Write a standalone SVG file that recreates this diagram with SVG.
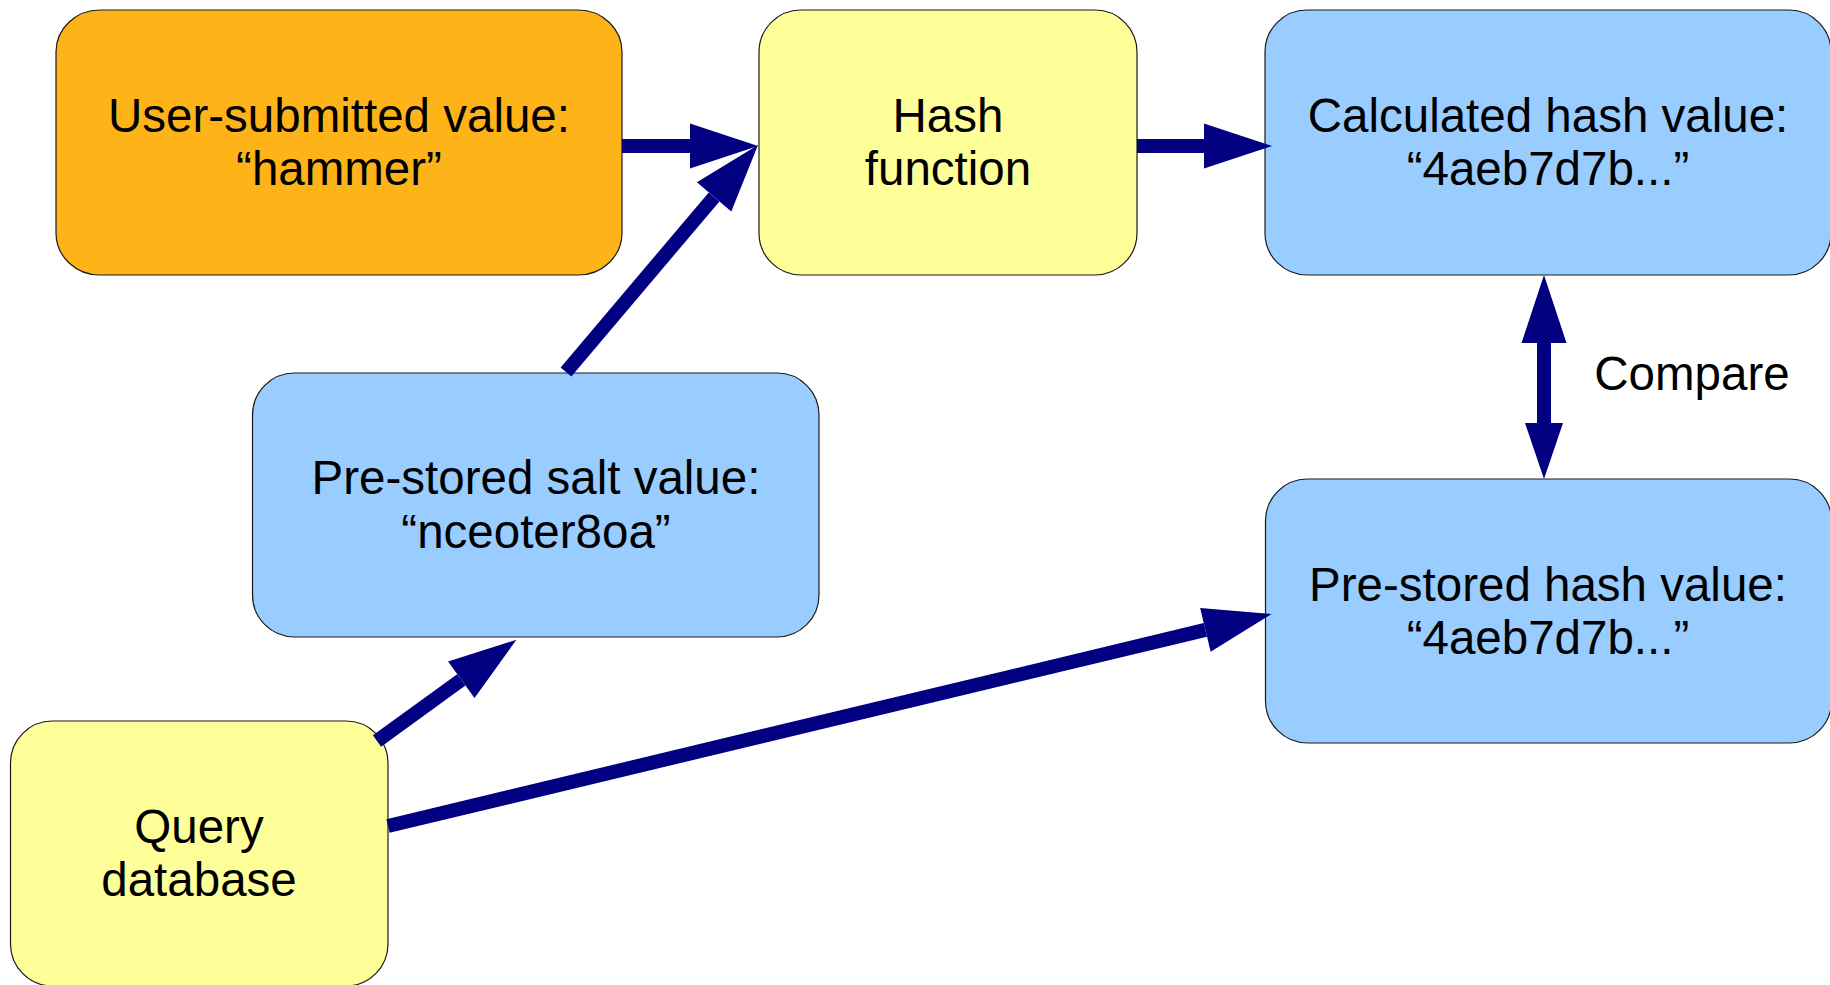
<svg xmlns="http://www.w3.org/2000/svg" width="1830" height="985" viewBox="0 0 1830 985">
  <style>
    .box { stroke: #1a1a1a; stroke-width: 1.2; }
    .orange { fill: #feb319; }
    .yellow { fill: #ffff99; }
    .blue { fill: #99ccff; }
    text { font-family: "Liberation Sans", Arial, sans-serif; font-size: 47.5px; fill: #000; text-anchor: middle; }
    .conn { stroke: #000080; stroke-width: 14; fill: none; stroke-linecap: butt; }
  </style>
  <defs>
    <marker id="head" markerUnits="userSpaceOnUse" markerWidth="68" markerHeight="45" viewBox="0 0 68 45" refX="0" refY="22.5" orient="auto-start-reverse" overflow="visible">
      <path d="M0,0 L68,22.5 L0,45 Z" fill="#000080"/>
    </marker>
    <marker id="headSmall" markerUnits="userSpaceOnUse" markerWidth="56" markerHeight="38" viewBox="0 0 56 38" refX="0" refY="19" orient="auto" overflow="visible">
      <path d="M0,0 L56,19 L0,38 Z" fill="#000080"/>
    </marker>
  </defs>
  <rect width="1830" height="985" fill="#ffffff"/>

  <g id="user-value">
    <rect class="box orange" x="56" y="10" width="566" height="265" rx="44" ry="42"/>
    <text x="339" y="132">User-submitted value:</text>
    <text x="339" y="185">“hammer”</text>
  </g>

  <g id="hash-function">
    <rect class="box yellow" x="759" y="10" width="378" height="265" rx="42" ry="42"/>
    <text x="948" y="132">Hash</text>
    <text x="948" y="185">function</text>
  </g>

  <g id="calculated-hash">
    <rect class="box blue" x="1265" y="10" width="566" height="265" rx="42" ry="42"/>
    <text x="1548" y="132">Calculated hash value:</text>
    <text x="1548" y="185">“4aeb7d7b...”</text>
  </g>

  <g id="salt-value">
    <rect class="box blue" x="252.5" y="373" width="566.5" height="264" rx="42" ry="42"/>
    <text x="536" y="494">Pre-stored salt value:</text>
    <text x="536" y="548">“nceoter8oa”</text>
  </g>

  <g id="stored-hash">
    <rect class="box blue" x="1265.5" y="479" width="566" height="264" rx="42" ry="42"/>
    <text x="1548" y="601">Pre-stored hash value:</text>
    <text x="1548" y="654">“4aeb7d7b...”</text>
  </g>

  <g id="query-database">
    <rect class="box yellow" x="10.5" y="721" width="377.5" height="265" rx="42" ry="42"/>
    <text x="199" y="843">Query</text>
    <text x="199" y="896">database</text>
  </g>

  <g id="connectors">
    <path class="conn" d="M622,146 L690,146" marker-end="url(#head)"/>
    <path class="conn" d="M1137,146 L1204,146" marker-end="url(#head)"/>
    <path class="conn" d="M566,372 L714.1,196.9" marker-end="url(#head)"/>
    <path class="conn" d="M377,741 L461.3,679.8" marker-end="url(#head)"/>
    <path class="conn" d="M388,826 L1205.4,629.9" marker-end="url(#head)"/>
    <path class="conn" d="M1544,343 L1544,423" marker-start="url(#head)" marker-end="url(#headSmall)"/>
    <text x="1692" y="390">Compare</text>
  </g>
</svg>
